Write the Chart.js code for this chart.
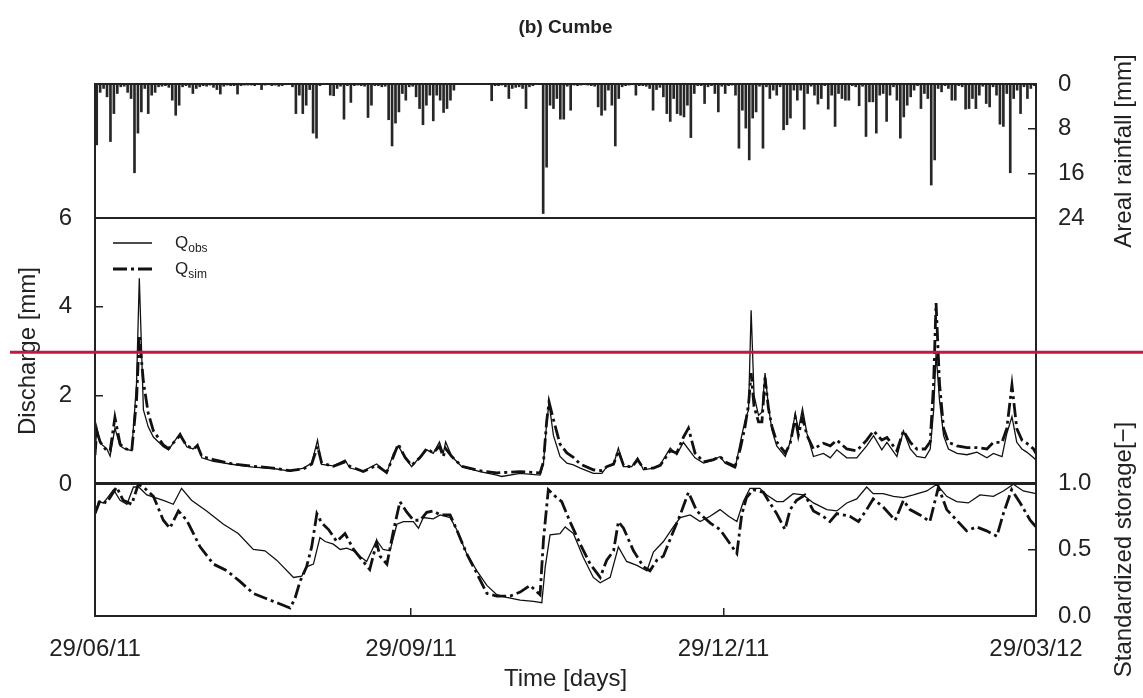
<!DOCTYPE html>
<html>
<head>
<meta charset="utf-8">
<script src="https://cdn.jsdelivr.net/npm/chart.js@4.4.0/dist/chart.umd.min.js"></script>
<style>
  html, body { margin: 0; padding: 0; background: #fff; }
  #wrap { position: relative; width: 1143px; height: 698px; }
  #wrap canvas { position: absolute; left: 0; top: 0; }
</style>
</head>
<body>
<div id="wrap">
  <canvas id="rainChart" width="1143" height="698"></canvas>
  <canvas id="flowChart" width="1143" height="698"></canvas>
  <canvas id="storageChart" width="1143" height="698"></canvas>
</div>
<script>
// time axis, in days since 29/06/11
const xTickDays = [0, 92, 183, 274];
const xTickLabels = ["29/06/11", "29/09/11", "29/12/11", "29/03/12"];

// tick values of the three panels
const rainTicks = [0, 8, 16, 24];
const dischargeTicks = [0, 2, 4, 6];
const storageTicks = [0, 0.5, 1.0];

// daily areal rainfall [mm], one bar per day
const rainfall = [
  10.9, 1.5, 0.8, 2.3, 10.3, 5.3, 1.7, 0.5, 0.4, 1.5,
  2.6, 15.9, 8.8, 5.0, 0.8, 5.3, 2.0, 1.5, 0.5, 0.4,
  0.3, 0.6, 2.9, 5.6, 3.8, 0.5, 0.3, 0.6, 1.7, 0.8,
  0.5, 0.3, 0.4, 0.2, 0.6, 1.0, 1.8, 0.4, 0.2, 0.3,
  0.3, 1.8, 0.3, 0.2, 0.2, 0.2, 0.3, 0.1, 1.0, 0.2,
  0.1, 0.3, 0.2, 0.4, 0.3, 0.1, 0, 0.5, 5.3, 2.0,
  5.3, 3.8, 1.0, 8.8, 9.7, 0.3, 0, 0, 2.0, 2.1,
  0.8, 0.4, 6.3, 0.3, 3.3, 0.3, 0.2, 0.3, 0.4, 6.0,
  3.8, 0.3, 0.3, 0.5, 0.4, 6.4, 11.1, 7.0, 5.0, 1.7,
  2.9, 0.5, 0.4, 2.3, 4.4, 7.3, 3.8, 2.0, 6.6, 2.0,
  2.9, 5.1, 4.4, 2.9, 1.1, 0, 0, 0, 0, 0,
  0, 0, 0, 0, 0, 3.0, 0.3, 0.3, 0.2, 0.5,
  2.6, 0.8, 0.6, 0.5, 0.8, 4.4, 0.5, 0.3, 0, 0,
  23.2, 14.9, 3.8, 4.4, 2.6, 6.3, 6.3, 0.4, 4.7, 0.2,
  0.3, 0.2, 0.1, 0.2, 0.3, 0.4, 4.1, 5.6, 4.7, 1.1,
  3.8, 11.1, 2.6, 0.5, 0.3, 0.2, 0.1, 2.0, 0.3, 0.3,
  0.4, 0.8, 4.7, 1.0, 0.6, 2.3, 5.3, 6.7, 2.6, 5.3,
  5.6, 5.9, 3.8, 9.6, 1.7, 0.3, 0.3, 3.5, 0.5, 0.3,
  1.7, 5.0, 0.4, 1.7, 0.3, 0.2, 2.0, 11.5, 4.7, 7.9,
  13.6, 6.1, 5.0, 0.4, 11.5, 0.5, 2.6, 1.1, 2.0, 0.5,
  8.2, 7.3, 6.1, 1.1, 2.9, 1.1, 8.1, 1.7, 0.4, 2.0,
  3.6, 2.6, 0.3, 4.5, 2.0, 7.6, 1.7, 2.6, 2.9, 2.9,
  0.3, 0.5, 3.9, 0.4, 9.4, 3.2, 3.2, 8.8, 2.0, 1.7,
  6.7, 2.0, 0.5, 2.9, 9.7, 5.9, 3.8, 2.3, 1.1, 0.3,
  4.4, 1.7, 2.6, 18.1, 13.6, 0.8, 1.4, 0.3, 0.8, 2.9,
  2.9, 0.3, 0.5, 4.5, 4.4, 2.6, 4.4, 2.0, 0.4, 3.5,
  4.1, 0.5, 2.0, 7.2, 7.6, 1.7, 15.9, 2.6, 1.1, 5.3,
  0.5, 2.6, 0.8, 0.3
];

// discharge [mm] as [day, value]
const qObs = [
  [0, 0.6], [0.5, 1.29], [1.5, 0.92], [3.4, 0.8], [4.4, 0.63], [5.8, 1.26], [7.3, 0.86], [8.7, 0.79],
  [10.7, 0.75], [12.1, 2.27], [12.9, 4.64], [14.1, 1.67], [15.5, 1.29], [17, 1.06], [19.9, 0.84], [21.4, 0.77],
  [24.8, 1.15], [26.7, 0.84], [28.6, 0.79], [29.9, 0.9], [31.1, 0.59], [34.5, 0.51], [40.3, 0.44], [46.1, 0.38],
  [51.9, 0.35], [56.8, 0.29], [60.7, 0.36], [63.1, 0.47], [64.8, 0.99], [66, 0.44], [69.4, 0.41], [72.8, 0.54],
  [74.2, 0.36], [78.1, 0.29], [82, 0.45], [83, 0.39], [84.9, 0.24], [86.9, 0.69], [88.3, 0.86], [90.3, 0.59],
  [92.2, 0.39], [94.7, 0.62], [96.6, 0.77], [98.5, 0.69], [100.3, 0.95], [101.4, 0.69], [102.1, 0.95], [103.9, 0.62],
  [106.8, 0.39], [112.1, 0.28], [117, 0.2], [118.4, 0.17], [123.8, 0.24], [129.6, 0.2], [130.6, 0.47], [131.5, 1.37],
  [132.2, 1.82], [133.5, 1.09], [135.4, 0.62], [137.4, 0.47], [139.3, 0.43], [141.3, 0.36], [145.1, 0.24], [147.6, 0.24],
  [149, 0.39], [151, 0.44], [152.4, 0.81], [153.9, 0.39], [156.3, 0.39], [158, 0.59], [159.7, 0.32], [162.6, 0.36],
  [164.6, 0.44], [167.5, 0.81], [169.4, 0.66], [171.3, 0.94], [174.7, 0.59], [177.2, 0.47], [180.1, 0.54], [182, 0.62],
  [183.5, 0.47], [186.4, 0.36], [187.9, 0.94], [189.3, 1.44], [190.3, 1.67], [191.05, 3.92], [191.9, 2.0], [193.2, 1.55],
  [194.2, 1.62], [195.1, 2.5], [196.1, 1.75], [197.1, 1.22], [198.5, 0.86], [201, 0.62], [202.4, 0.94], [203.9, 1.59],
  [204.8, 1.22], [206, 1.7], [207.3, 1.14], [209.2, 0.62], [212.1, 0.69], [214.1, 0.59], [216, 0.77], [218.9, 0.59],
  [221.8, 0.59], [224.7, 0.86], [226.7, 1.09], [229.1, 0.77], [230.6, 0.94], [233.5, 0.62], [235.4, 1.2], [237.4, 0.79],
  [239.3, 0.62], [241.7, 0.59], [243.2, 0.79], [244.2, 1.67], [244.9, 2.95], [245.9, 1.89], [247.1, 1.09], [248.5, 0.79],
  [251, 0.69], [253.9, 0.66], [256.8, 0.72], [259.7, 0.59], [261.6, 0.69], [264.1, 0.62], [265.5, 1.14], [267, 1.52],
  [268.4, 0.94], [269.9, 0.79], [271.3, 0.72], [273.3, 0.59], [274, 0.54]
];
const qSim = [
  [0, 0.65], [0.5, 1.2], [1.5, 0.95], [3.4, 0.75], [4.4, 0.75], [5.8, 1.5], [7.3, 0.9], [8.7, 0.8],
  [10.7, 0.75], [12.1, 1.9], [12.9, 3.36], [14.1, 2.3], [15.5, 1.6], [17, 1.2], [19.9, 0.88], [21.4, 0.8],
  [24.8, 1.1], [26.7, 0.86], [28.6, 0.8], [29.9, 0.85], [31.1, 0.62], [34.5, 0.55], [40.3, 0.45], [46.1, 0.4],
  [51.9, 0.36], [56.8, 0.3], [60.7, 0.34], [63.1, 0.45], [64.8, 0.85], [66, 0.47], [69.4, 0.4], [72.8, 0.5],
  [74.2, 0.4], [78.1, 0.28], [82, 0.42], [84.9, 0.26], [86.9, 0.62], [88.3, 0.9], [90.3, 0.6], [92.2, 0.42],
  [94.7, 0.6], [96.6, 0.8], [98.5, 0.7], [100.3, 0.85], [101.4, 0.62], [102.1, 0.8], [103.9, 0.62], [106.8, 0.4],
  [112.1, 0.3], [117, 0.25], [123.8, 0.28], [129.6, 0.25], [130.6, 0.5], [131.5, 1.4], [132.2, 1.85], [133.5, 1.45],
  [135.4, 0.9], [137.4, 0.7], [139.3, 0.6], [141.3, 0.45], [145.1, 0.32], [147.6, 0.3], [149, 0.39], [151, 0.45],
  [152.4, 0.75], [153.9, 0.42], [156.3, 0.38], [158, 0.55], [159.7, 0.35], [162.6, 0.36], [164.6, 0.42], [167.5, 0.75],
  [169.4, 0.7], [171.3, 1.05], [172.8, 1.26], [174.7, 0.7], [177.2, 0.5], [180.1, 0.55], [182, 0.62], [183.5, 0.5],
  [186.4, 0.4], [187.9, 0.8], [189.3, 1.3], [190.3, 1.8], [191.05, 2.5], [191.9, 1.75], [193.2, 1.4], [194.2, 1.4],
  [195.1, 2.4], [196.1, 1.7], [197.1, 1.3], [198.5, 0.95], [201, 0.7], [202.4, 0.9], [203.9, 1.5], [204.8, 1.1],
  [206, 1.5], [207.3, 1.1], [209.2, 0.79], [212.1, 0.92], [214.1, 0.86], [216, 0.99], [218.9, 0.79], [221.8, 0.75],
  [224.7, 0.99], [226.7, 1.2], [229.1, 0.99], [230.6, 1.05], [233.5, 0.75], [235.4, 1.2], [237.4, 0.94], [239.3, 0.79],
  [241.7, 0.79], [243.2, 0.95], [244.2, 2.3], [244.9, 4.08], [245.9, 2.27], [247.1, 1.25], [248.5, 0.94], [251, 0.86],
  [253.9, 0.82], [256.8, 0.82], [259.7, 0.79], [261.6, 0.94], [264.1, 0.94], [265.5, 1.25], [267, 2.23], [268.4, 1.25],
  [269.9, 0.99], [271.3, 0.92], [273.3, 0.79], [274, 0.69]
];

// standardized storage [-] as [day, value]
const sObs = [
  [0, 0.76], [1, 0.86], [2.5, 0.85], [3.4, 0.88], [5.4, 0.95], [7.3, 0.87], [9.3, 0.84], [11.2, 0.97],
  [12.7, 0.97], [15.1, 0.91], [19.9, 0.87], [22.8, 0.84], [25.2, 0.96], [28.1, 0.87], [32.5, 0.79], [37.4, 0.69],
  [41.7, 0.62], [46.1, 0.5], [49.5, 0.49], [52.9, 0.42], [57.8, 0.29], [60.2, 0.3], [61.6, 0.37], [63.6, 0.39],
  [65.5, 0.59], [67, 0.56], [69.4, 0.54], [71.4, 0.5], [73.3, 0.51], [75.3, 0.49], [77.6, 0.44], [79.1, 0.41],
  [82, 0.57], [83.9, 0.5], [85.9, 0.49], [87.9, 0.69], [89.8, 0.71], [92.7, 0.71], [94.2, 0.66], [95.6, 0.74],
  [98.5, 0.73], [100.5, 0.76], [103.4, 0.74], [105.3, 0.65], [108.2, 0.47], [111.2, 0.34], [114.1, 0.23], [117, 0.16],
  [119.9, 0.14], [123.8, 0.12], [127.7, 0.11], [130.1, 0.1], [131.1, 0.37], [132.5, 0.61], [135.4, 0.62], [136.9, 0.67],
  [139.3, 0.62], [142.2, 0.44], [145.1, 0.29], [147.1, 0.25], [150, 0.29], [152.4, 0.52], [154.8, 0.41], [157.8, 0.38],
  [160.7, 0.34], [162.6, 0.48], [165.5, 0.56], [168.4, 0.67], [170.4, 0.74], [173.3, 0.76], [176.2, 0.71], [179.1, 0.75],
  [182, 0.8], [184.5, 0.75], [186.9, 0.71], [188.8, 0.86], [190.7, 0.96], [193.6, 0.96], [195.6, 0.91], [198.5, 0.86],
  [200.4, 0.86], [203.3, 0.92], [206.2, 0.91], [209.2, 0.85], [213.1, 0.8], [216, 0.79], [218.9, 0.85], [221.8, 0.88],
  [224.7, 0.97], [226.6, 0.92], [229.5, 0.92], [232.5, 0.9], [235.4, 0.89], [238.3, 0.91], [242.2, 0.94], [245.1, 0.99],
  [248, 0.9], [250.9, 0.86], [254.3, 0.85], [257.7, 0.91], [261.6, 0.9], [264.5, 0.94], [267.4, 0.99], [270.3, 0.94],
  [274, 0.92]
];
const sSim = [
  [0, 0.77], [1.5, 0.87], [3.4, 0.85], [6.3, 0.97], [8.2, 0.87], [10.7, 0.84], [12.6, 0.99], [14.1, 0.97],
  [17, 0.9], [19.9, 0.72], [21.8, 0.66], [24.3, 0.79], [26.7, 0.72], [30.6, 0.52], [34.5, 0.39], [38.4, 0.34],
  [42.2, 0.26], [46.1, 0.17], [50, 0.13], [53.9, 0.09], [56.8, 0.06], [58.2, 0.13], [59.7, 0.26], [61.6, 0.37],
  [63.1, 0.52], [64.6, 0.77], [66, 0.7], [68, 0.65], [70.4, 0.56], [72.8, 0.62], [75.3, 0.5], [78.1, 0.41],
  [80, 0.35], [82, 0.55], [83, 0.45], [85, 0.39], [86.9, 0.64], [88.8, 0.86], [90.8, 0.78], [92.7, 0.72],
  [94.7, 0.72], [96.6, 0.78], [98.5, 0.79], [100.5, 0.76], [103.4, 0.76], [105.3, 0.65], [108.2, 0.47], [111.2, 0.32],
  [114.1, 0.17], [117, 0.15], [120.9, 0.15], [123.8, 0.18], [126.7, 0.23], [129.6, 0.16], [130.6, 0.58], [132, 0.95],
  [134, 0.9], [135.9, 0.86], [138.3, 0.71], [141.3, 0.54], [144.2, 0.39], [147.1, 0.29], [149, 0.42], [151, 0.49],
  [152.4, 0.71], [153.9, 0.66], [156.8, 0.49], [159.7, 0.37], [161.6, 0.34], [163.6, 0.42], [165.5, 0.45], [167.5, 0.58],
  [170.4, 0.76], [172.8, 0.93], [175.2, 0.79], [179.1, 0.7], [182, 0.65], [185, 0.54], [186.9, 0.47], [188.3, 0.76],
  [189.7, 0.89], [191.7, 0.95], [194.6, 0.93], [196.5, 0.85], [198.5, 0.77], [200.9, 0.65], [202.4, 0.8], [204.3, 0.87],
  [206.7, 0.91], [209.2, 0.79], [212, 0.75], [214, 0.71], [216, 0.77], [219.8, 0.75], [222.3, 0.71], [224.7, 0.8],
  [226.6, 0.88], [229.5, 0.82], [233, 0.72], [235.4, 0.87], [237.3, 0.8], [240.2, 0.76], [243.1, 0.71], [245.6, 0.97],
  [248, 0.8], [250.9, 0.72], [253.8, 0.64], [256.7, 0.67], [259.6, 0.64], [262.6, 0.6], [264.5, 0.77], [266.9, 0.95],
  [269.4, 0.85], [272.3, 0.72], [274, 0.67]
];

// discharge level of the red marker line
const markLevel = 2.97;

const ink = "#222";
const fontFamily = "'Liberation Sans', Arial, Helvetica, sans-serif";
Chart.defaults.font.family = fontFamily;
Chart.defaults.font.size = 24;
Chart.defaults.color = ink;
Chart.defaults.animation = false;

const simDash = [14, 4, 3, 4];
const toXY = pairs => pairs.map(([x, y]) => ({ x: x, y: y }));

// box around the plotting area of each panel
const framePlugin = {
    id: "frame",
    afterDraw(chart) {
        const { ctx, chartArea: a } = chart;
        ctx.save();
        ctx.strokeStyle = ink;
        ctx.lineWidth = 2;
        ctx.strokeRect(a.left, a.top, a.right - a.left, a.bottom - a.top);
        ctx.restore();
    }
};

// right-hand axis titles read bottom to top, like the left one
function sideTitle(text) {
    return {
        id: "sideTitle",
        afterDraw(chart) {
            const { ctx, chartArea: a } = chart;
            ctx.save();
            ctx.translate(a.right + 88, (a.top + a.bottom) / 2);
            ctx.rotate(-Math.PI / 2);
            ctx.font = "24px " + fontFamily;
            ctx.fillStyle = ink;
            ctx.textAlign = "center";
            ctx.textBaseline = "middle";
            ctx.fillText(text, 0, 0);
            ctx.restore();
        }
    };
}

// figure title, centred over the plotting area
const panelTitle = {
    id: "panelTitle",
    afterDraw(chart) {
        const { ctx, chartArea: a } = chart;
        ctx.save();
        ctx.font = "bold 19px " + fontFamily;
        ctx.fillStyle = ink;
        ctx.textAlign = "center";
        ctx.textBaseline = "middle";
        ctx.fillText("(b) Cumbe", (a.left + a.right) / 2, a.top - 56);
        ctx.restore();
    }
};

// Q_obs / Q_sim key with subscripts
const flowLegend = {
    id: "flowLegend",
    afterDraw(chart) {
        const { ctx, chartArea: a } = chart;
        const rows = [["obs", []], ["sim", simDash]];
        ctx.save();
        rows.forEach(([sub, dash], i) => {
            const y = a.top + 25 + i * 26;
            ctx.beginPath();
            ctx.setLineDash(dash);
            ctx.lineWidth = i === 0 ? 1.3 : 2.8;
            ctx.strokeStyle = "#111";
            ctx.moveTo(a.left + 18, y);
            ctx.lineTo(a.left + 57, y);
            ctx.stroke();
            ctx.setLineDash([]);
            ctx.fillStyle = ink;
            ctx.textBaseline = "middle";
            ctx.font = "17px " + fontFamily;
            ctx.fillText("Q", a.left + 80, y);
            const qw = ctx.measureText("Q").width;
            ctx.font = "12px " + fontFamily;
            ctx.fillText(sub, a.left + 80 + qw, y + 6);
        });
        ctx.restore();
    }
};

// red horizontal marker across the whole picture
const markLine = {
    id: "markLine",
    afterDraw(chart) {
        const y = chart.scales.y.getPixelForValue(markLevel);
        const ctx = chart.ctx;
        ctx.save();
        ctx.strokeStyle = "#c4163f";
        ctx.lineWidth = 3;
        ctx.beginPath();
        ctx.moveTo(10, y);
        ctx.lineTo(chart.width, y);
        ctx.stroke();
        ctx.restore();
    }
};

function xScale(show) {
    const scale = {
        type: "linear",
        min: xTickDays[0],
        max: xTickDays[xTickDays.length - 1],
        offset: false,
        display: show,
        border: { display: false },
        grid: { drawOnChartArea: false, drawTicks: true, tickLength: -8, color: ink, lineWidth: 1.5 },
        afterBuildTicks: s => { s.ticks = xTickDays.map(v => ({ value: v })); },
        ticks: {
            autoSkip: false,
            maxRotation: 0,
            padding: 27,
            callback: v => xTickLabels[xTickDays.indexOf(v)]
        },
        title: { display: show, text: "Time [days]", padding: { top: 0, bottom: 4 } }
    };
    if (show) scale.afterFit = s => { s.height = 82; };
    return scale;
}

function yScale(position, values, fmt, width, extra) {
    return Object.assign({
        position: position,
        min: values[0],
        max: values[values.length - 1],
        border: { display: false },
        grid: { drawOnChartArea: false, drawTicks: true, tickLength: -8, color: ink, lineWidth: 1.5 },
        afterBuildTicks: s => { s.ticks = values.map(v => ({ value: v })); },
        afterFit: s => { s.width = width; },
        ticks: { autoSkip: false, padding: position === "left" ? 31 : 30, callback: fmt }
    }, extra || {});
}

// top panel: rainfall bars hanging from the top
new Chart(document.getElementById("rainChart"), {
    type: "bar",
    data: {
        datasets: [{
            data: rainfall.map((v, i) => ({ x: i + 0.5, y: v })),
            backgroundColor: "#262626",
            barThickness: 2
        }]
    },
    options: {
        responsive: false,
        layout: { padding: { left: 95, right: 0, top: 84, bottom: 480 } },
        scales: {
            x: xScale(false),
            y: yScale("right", rainTicks, v => v, 107, { reverse: true })
        },
        plugins: { legend: { display: false }, tooltip: { enabled: false } }
    },
    plugins: [framePlugin, panelTitle, sideTitle("Areal rainfall [mm]")]
});

// middle panel: discharge
new Chart(document.getElementById("flowChart"), {
    type: "line",
    data: {
        datasets: [
            { label: "Qobs", data: toXY(qObs), borderColor: "#111", borderWidth: 1.3, pointRadius: 0, tension: 0 },
            { label: "Qsim", data: toXY(qSim), borderColor: "#111", borderWidth: 2.8, borderDash: simDash, pointRadius: 0, tension: 0 }
        ]
    },
    options: {
        responsive: false,
        layout: { padding: { left: 0, right: 107, top: 218, bottom: 214 } },
        scales: {
            x: xScale(false),
            y: yScale("left", dischargeTicks, v => v, 95, {
                title: { display: true, text: "Discharge [mm]", padding: { top: 14, bottom: 0 } }
            })
        },
        plugins: { legend: { display: false }, tooltip: { enabled: false } }
    },
    plugins: [framePlugin, flowLegend, markLine]
});

// bottom panel: standardized storage
new Chart(document.getElementById("storageChart"), {
    type: "line",
    data: {
        datasets: [
            { label: "Sobs", data: toXY(sObs), borderColor: "#111", borderWidth: 1.3, pointRadius: 0, tension: 0 },
            { label: "Ssim", data: toXY(sSim), borderColor: "#111", borderWidth: 2.8, borderDash: simDash, pointRadius: 0, tension: 0 }
        ]
    },
    options: {
        responsive: false,
        layout: { padding: { left: 95, right: 0, top: 483, bottom: 0 } },
        scales: {
            x: xScale(true),
            y: yScale("right", storageTicks, v => v.toFixed(1), 107)
        },
        plugins: { legend: { display: false }, tooltip: { enabled: false } }
    },
    plugins: [framePlugin, sideTitle("Standardized storage[\u2212]")]
});
</script>
</body>
</html>
